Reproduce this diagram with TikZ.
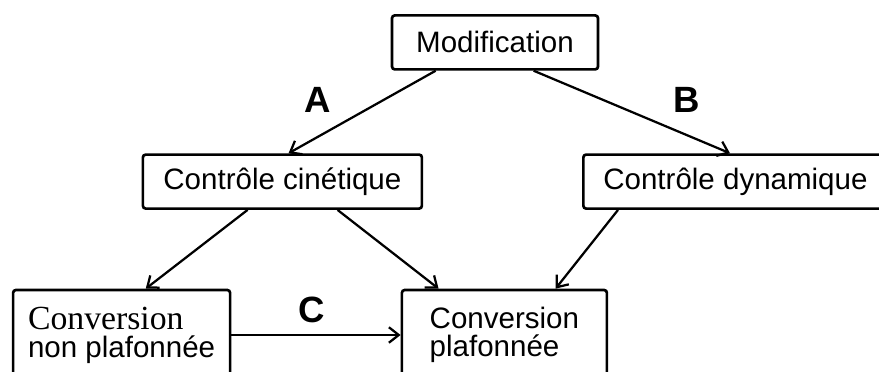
\documentclass[tikz,border=0pt]{standalone}
\usepackage{fontspec}
\setmainfont{Liberation Sans}
\newfontfamily\convserif{Liberation Serif}
\usetikzlibrary{arrows.meta}

\tikzset{
  boite/.style={draw, line width=1.9pt, rounded corners=2pt, inner xsep=0.5cm,
    minimum height=1.35cm, font=\fontsize{21}{20}\selectfont},
  fleche/.style={->, line width=1.6pt},
  lettre/.style={font=\fontsize{26}{28}\selectfont\bfseries},
  >={Straight Barb[length=7pt,width=11pt]}
}

\begin{document}
\begin{tikzpicture}
\clip (0,0) rectangle (21.975,9.3);

% boites
\node[boite, minimum width=5.15cm] (mod) at (12.375,8.24) {Modification};
\node[boite, minimum width=6.975cm] (kin) at (7.06,4.76) {Contr\^ole cin\'etique};
\node[boite, anchor=west] (dyn) at (14.55,4.76) {Contr\^ole dynamique};
\node[boite, align=left, inner xsep=1pt, minimum width=5.425cm, minimum height=2.25cm]
  (nonplaf) at (3.04,0.925) {{\convserif\fontsize{24}{20}\selectfont Conversion}\\non plafonn\'ee};
\node[boite, align=left, inner xsep=2pt, minimum width=5.125cm, minimum height=2.25cm]
  (plaf) at (12.61,0.925) {Conversion\\plafonn\'ee};

% lettres
\node[lettre] (a) at (7.95,6.8) {A};
\node[lettre] (b) at (17.175,6.8) {B};
\node[lettre] (c) at (7.8,1.55) {C};

% fleches
\draw[fleche] ([xshift=1.125cm]mod.south west) -- ([xshift=3.675cm]kin.north west);
\draw[fleche] ([xshift=3.575cm]mod.south west) -- ([xshift=3.7cm]dyn.north west);
\draw[fleche] ([xshift=2.65cm]kin.south west) -- ([xshift=3.35cm]nonplaf.north west);
\draw[fleche] ([xshift=4.9cm]kin.south west) -- ([xshift=0.95cm]plaf.north west);
\draw[fleche] ([xshift=0.9cm]dyn.south west) -- ([xshift=3.875cm]plaf.north west);
\draw[fleche] (nonplaf.east) -- (plaf.west);
\end{tikzpicture}
\end{document}
